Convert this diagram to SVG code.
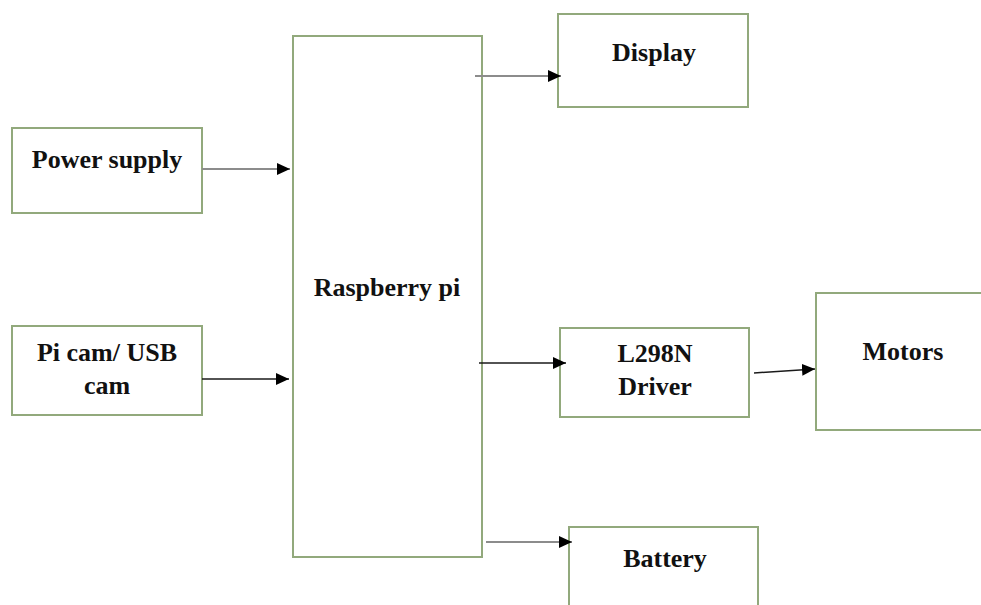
<svg xmlns="http://www.w3.org/2000/svg" width="981" height="605" viewBox="0 0 981 605">
<defs>
<marker id="ah" markerUnits="userSpaceOnUse" markerWidth="14" markerHeight="13" refX="13" refY="6" orient="auto">
<path d="M0,0 L13,6 L0,12 z" fill="#000"/>
</marker>
<style>
.box{fill:#fff;stroke:#92a97c;stroke-width:2}
.lbl{font-family:"Liberation Serif","Times New Roman",serif;font-weight:bold;font-size:26px;fill:#111;text-anchor:middle}
.gray{stroke:#8c8c8c;stroke-width:1.8;fill:none}
.dark{stroke:#1a1a1a;stroke-width:1.5;fill:none}
</style>
</defs>
<rect width="981" height="605" fill="#fff"/>
<g id="power">
<rect class="box" x="12" y="128" width="190" height="85"/>
<text class="lbl" x="107" y="168">Power supply</text>
</g>
<g id="picam">
<rect class="box" x="12" y="326" width="190" height="89"/>
<text class="lbl" x="107" y="361">Pi cam/ USB</text>
<text class="lbl" x="107" y="394">cam</text>
</g>
<g id="raspberry">
<rect class="box" x="293" y="36" width="189" height="521"/>
<text class="lbl" x="387" y="296">Raspberry pi</text>
</g>
<g id="display">
<rect class="box" x="558" y="14" width="190" height="93"/>
<text class="lbl" x="654" y="61">Display</text>
</g>
<g id="driver">
<rect class="box" x="560" y="328" width="189" height="89"/>
<text class="lbl" x="655" y="362">L298N</text>
<text class="lbl" x="655" y="395">Driver</text>
</g>
<g id="motors">
<rect class="box" x="816" y="293" width="175" height="137"/>
<text class="lbl" x="903" y="360">Motors</text>
</g>
<g id="battery">
<rect class="box" x="569" y="527" width="189" height="90"/>
<text class="lbl" x="665" y="567">Battery</text>
</g>
<g id="connectors">
<line class="gray" x1="202" y1="169" x2="290" y2="169" marker-end="url(#ah)"/>
<line class="dark" x1="202" y1="379" x2="289" y2="379" marker-end="url(#ah)"/>
<line class="gray" x1="475" y1="76" x2="561" y2="76" marker-end="url(#ah)"/>
<line class="dark" x1="479" y1="363" x2="566" y2="363" marker-end="url(#ah)"/>
<line class="dark" x1="754" y1="373" x2="815" y2="369" marker-end="url(#ah)"/>
<line class="gray" x1="486" y1="542" x2="572" y2="542" marker-end="url(#ah)"/>
</g>
</svg>
